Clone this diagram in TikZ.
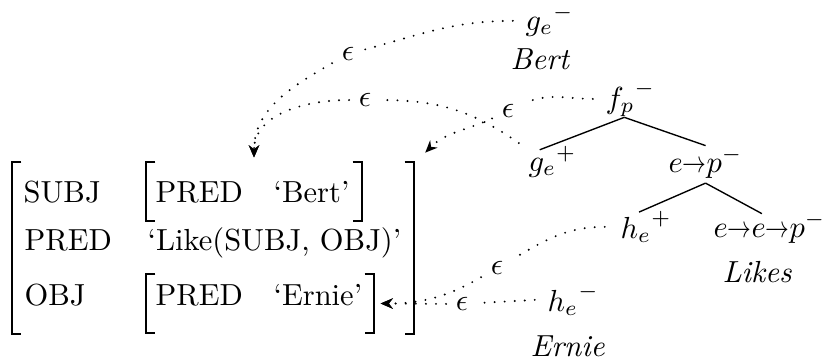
\documentclass[tikz,border=0pt]{standalone}
\usetikzlibrary{arrows.meta,calc,fit}
\newcommand{\shra}{\mathord{\scalebox{0.78}[1]{$\rightarrow$}}}
\begin{document}
\begin{tikzpicture}[x=0.328pt,y=-0.328pt,
  txt/.style={inner sep=0pt,anchor=base west},
  box/.style={inner sep=0pt},
  eps/.style={inner sep=3pt},
  dotline/.style={line width=0.7pt,dash pattern=on 0pt off 3.3pt,line cap=round},
  arr/.style={-{Stealth[length=4pt,width=3.4pt]}},
  tree/.style={line width=0.45pt},
  brk/.style={line width=0.7pt}]
\useasboundingbox (0,0) rectangle (833,358);

% ---------- AVM text ----------
\node[txt] (subj)  at (23,202)  {SUBJ};
\node[txt] (pred1) at (155,202) {PRED};
\node[txt] (bert)  at (273,202) {‘Bert’};
\node[txt] (pred)  at (24,250)  {PRED};
\node[txt] (like)  at (147,250) {‘Like(SUBJ, OBJ)’};
\node[txt] (obj)   at (24,305)  {OBJ};
\node[txt] (pred2) at (155,305) {PRED};
\node[txt] (ernie) at (273,305) {‘Ernie’};

% ---------- f-structure frames ----------
\node[box,fit={(147,163) (361,220)}] (subjfs) {};
\node[box,fit={(147,275) (373,332)}] (objfs) {};
\node[box,fit={(13,163) (413,333)}] (avm) {};

\draw[brk] ($(subjfs.north west)+(9,0)$) -- (subjfs.north west) -- (subjfs.south west) -- ++(9,0);
\draw[brk] ($(subjfs.north east)+(-9,0)$) -- (subjfs.north east) -- (subjfs.south east) -- ++(-9,0);
\draw[brk] ($(objfs.north west)+(9,0)$) -- (objfs.north west) -- (objfs.south west) -- ++(9,0);
\draw[brk] ($(objfs.north east)+(-9,0)$) -- (objfs.north east) -- (objfs.south east) -- ++(-9,0);
\draw[brk] ($(avm.north west)+(9,0)$) -- (avm.north west) -- (avm.south west) -- ++(9,0);
\draw[brk] ($(avm.north east)+(-9,0)$) -- (avm.north east) -- (avm.south east) -- ++(-9,0);

% ---------- glue side ----------
\node[txt] (gm)    at (525,30)  {${g_e}^{-}$};
\node[txt] (bertl) at (510,69)  {\textit{Bert}};
\node[txt] (f)     at (605,108) {${f_p}^{-}$};
\node[txt] (gp)    at (528,171) {${g_e}^{+}$};
\node[txt] (ep)    at (668,172) {$e\shra p^{-}$};
\node[txt] (hp)    at (620,238) {${h_e}^{+}$};
\node[txt] (eep)   at (713,237) {$e\shra e\shra p^{-}$};
\node[txt] (likes) at (722,282) {\textit{Likes}};
\node[txt] (hm)    at (547,311) {${h_e}^{-}$};
\node[txt] (erniel) at (530,356) {\textit{Ernie}};

% tree edges
\draw[tree] ([xshift=-2pt]f.south) -- ([shift={(-4.2pt,-1.2pt)}]gp.north);
\draw[tree] ([xshift=-2pt]f.south) -- ([yshift=0.5pt]ep.north);
\draw[tree] ([yshift=-1.5pt]ep.south) -- ([shift={(-2.3pt,-0.5pt)}]hp.north);
\draw[tree] ([yshift=-1.5pt]ep.south) -- ([shift={(-2.5pt,-0.5pt)}]eep.north);

% epsilon labels
\node[eps] (e1) at (348,54)  {$\epsilon$};
\node[eps] (e2) at (365,100) {$\epsilon$};
\node[eps] (e3) at (508,111) {$\epsilon$};
\node[eps] (e4) at (497,268) {$\epsilon$};
\node[eps] (e5) at (462,304) {$\epsilon$};

% dotted links
\draw[dotline] ([xshift=-4pt]gm.west) to[out=180,in=15] (e1);
\draw[dotline,arr] (e1) to[out=210,in=90] ([yshift=1.6pt]subjfs.north);
\draw[dotline] ([shift={(-3pt,1pt)}]gp.north west) to[out=145,in=0] (e2);
\draw[dotline,arr] (e2) to[out=180,in=90] ([yshift=1.6pt]subjfs.north);
\draw[dotline] ([xshift=-4pt]f.west) to[out=180,in=25] (e3);
\draw[dotline,arr] (e3) to[out=205,in=45] ([shift={(3.8pt,3.2pt)}]avm.north east);
\draw[dotline] ([xshift=-5pt]hp.west) to[out=180,in=30] (e4);
\draw[dotline,arr] (e4) to[out=210,in=0] ([xshift=2.3pt]objfs.east);
\draw[dotline] ([xshift=-4pt]hm.west) -- (e5);
\draw[dotline,arr] (e5) -- ([xshift=2.3pt]objfs.east);
\end{tikzpicture}
\end{document}
